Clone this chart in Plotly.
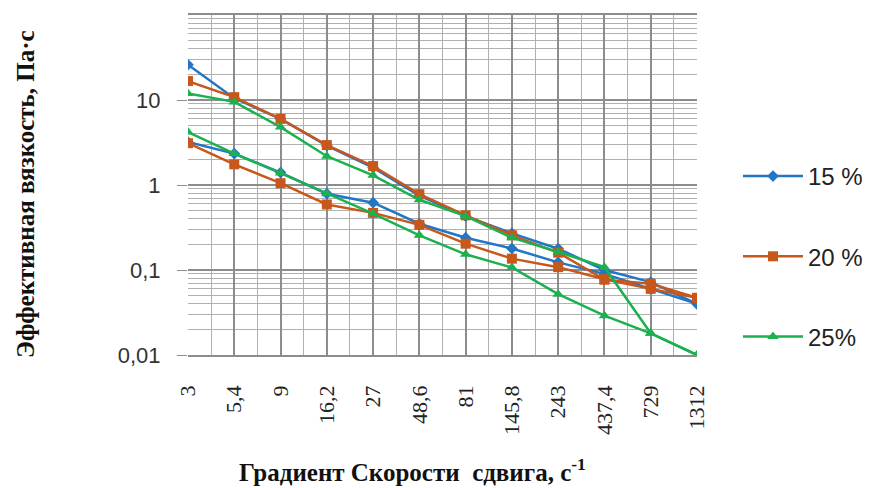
import plotly.graph_objects as go

categories = ["3", "5,4", "9", "16,2", "27", "48,6", "81", "145,8", "243", "437,4", "729", "1312"]

# 15 % : two runs (upper / lower branch)
c15_a = [26.0, 10.5, 6.0, 2.9, 1.6, 0.75, 0.43, 0.27, 0.178, 0.10, 0.072, 0.040]
c15_b = [3.2, 2.34, 1.40, 0.79, 0.62, 0.35, 0.24, 0.179, 0.123, 0.09, 0.060, 0.040]
# 20 %
c20_a = [16.7, 10.8, 6.0, 2.95, 1.67, 0.78, 0.44, 0.256, 0.16, 0.077, 0.069, 0.047]
c20_b = [3.1, 1.75, 1.05, 0.59, 0.47, 0.34, 0.204, 0.136, 0.108, 0.078, 0.060, 0.047]
# 25 %
c25_a = [11.9, 9.5, 4.8, 2.18, 1.3, 0.67, 0.43, 0.24, 0.163, 0.108, 0.018, 0.010]
c25_b = [4.2, 2.34, 1.38, 0.79, 0.46, 0.256, 0.153, 0.107, 0.052, 0.029, 0.018, 0.010]

series = [
    ("15 %", "#2176c7", "diamond", 9, c15_a, c15_b),
    ("20 %", "#c8571b", "square", 10, c20_a, c20_b),
    ("25%", "#1cb04f", "triangle-up", 10, c25_a, c25_b),
]

y_tickvals = [0.01, 0.1, 1, 10]
y_ticktext = ["0,01", "0,1", "1", "10"]

x_idx = list(range(len(categories)))

fig = go.Figure()
for name, color, sym, msize, ya, yb in series:
    for k, yv in enumerate((ya, yb)):
        fig.add_trace(go.Scatter(
            x=x_idx, y=yv, mode="lines+markers", name=name,
            legendgroup=name, showlegend=(k == 0),
            line=dict(color=color, width=2.5),
            marker=dict(symbol=sym, size=msize, color=color),
        ))

minor_y = [m * 10 ** e for e in range(-2, 2) for m in range(2, 10)]

fig.update_xaxes(
    range=[0, len(categories) - 1],
    tickmode="array", tickvals=x_idx, ticktext=categories,
    tickangle=-90, ticks="", ticklabelstandoff=20,
    tickfont=dict(family="Liberation Serif", size=22, color="#222"),
    showgrid=True, gridcolor="#8c8c8c", gridwidth=1.5,
    minor=dict(showgrid=True, tick0=0, dtick=0.5, gridcolor="#b0b0b0", gridwidth=1),
    zeroline=False, showline=True, mirror=True, linecolor="#8c8c8c", linewidth=1.5,
)
fig.update_yaxes(
    type="log", range=[-2, 2],
    tickmode="array", tickvals=y_tickvals, ticktext=y_ticktext,
    ticks="outside", ticklen=10, tickcolor="#8c8c8c", ticklabelstandoff=12,
    tickfont=dict(family="Liberation Sans", size=22, color="#333"),
    showgrid=True, gridcolor="#8c8c8c", gridwidth=1.5,
    minor=dict(showgrid=True, tickmode="array", tickvals=minor_y, gridcolor="#b0b0b0", gridwidth=1),
    zeroline=False, showline=False,
)

fig.add_annotation(
    text="<b>Эффективная вязкость, Па·с</b>", textangle=-90,
    xref="paper", yref="paper", x=(25 - 188) / 509, y=(355 - 194) / 340,
    xanchor="center", yanchor="middle", showarrow=False,
    font=dict(family="Liberation Serif", size=25, color="#111"),
)
fig.add_annotation(
    text="<b>Градиент Скорости  сдвига, с<sup>-1</sup></b>",
    xref="paper", yref="paper", x=(412 - 188) / 509, y=(355 - 470) / 340,
    xanchor="center", yanchor="middle", showarrow=False,
    font=dict(family="Liberation Serif", size=25, color="#111"),
)

fig.update_layout(
    width=875, height=488,
    margin=dict(l=188, r=178, t=15, b=133, autoexpand=False),
    paper_bgcolor="white", plot_bgcolor="white",
    showlegend=True,
    legend=dict(
        x=(738 - 188) / 509, y=(355 - 154) / 340, xanchor="left", yanchor="top",
        font=dict(family="Liberation Sans", size=24, color="#222"),
        tracegroupgap=46, itemwidth=60, bgcolor="rgba(0,0,0,0)",
    ),
)

fig.write_html("out.html")
